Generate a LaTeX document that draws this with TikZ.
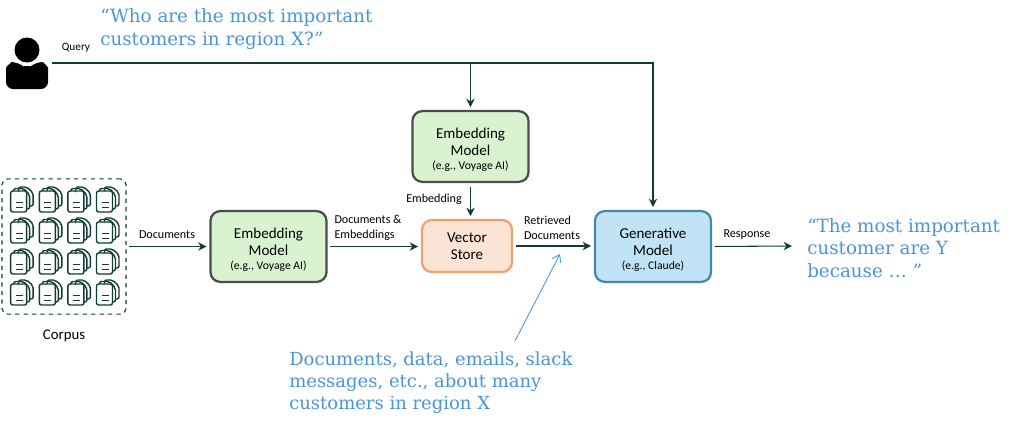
\documentclass[tikz,border=0pt]{standalone}
\usepackage{fontspec}
\setmainfont{Carlito}
\newfontfamily\quotefont{DejaVu Serif}
\usetikzlibrary{arrows.meta,positioning}
\definecolor{linegreen}{HTML}{103C34}
\definecolor{quoteblue}{HTML}{4A94DC}
\newcommand{\maker}[1]{\\[-2pt]{\fontsize{8.3}{9}\selectfont #1}}
\tikzset{
  px/.style={x=0.025cm,y=-0.025cm},
  modelbox/.style={draw,line width=1.6pt,rounded corners=7pt,minimum width=2.9cm,minimum height=1.77cm,align=center,inner sep=0pt,font=\fontsize{10.7}{11.8}\selectfont},
  embedbox/.style={modelbox,draw=black!70,fill={rgb,255:red,217;green,242;blue,208}},
  storebox/.style={modelbox,draw={rgb,255:red,241;green,160;blue,110},fill={rgb,255:red,251;green,227;blue,214},minimum width=2.25cm,minimum height=1.3cm},
  genbox/.style={modelbox,draw={rgb,255:red,70;green,135;blue,170},fill={rgb,255:red,192;green,228;blue,245}},
  conn/.style={draw=linegreen,line width=0.75pt,-{Stealth[length=6pt,width=6pt]}},
  edgelabel/.style={font=\fontsize{8.6}{10.6}\selectfont,align=left,inner sep=0pt},
  quote/.style={font=\quotefont\fontsize{13}{15.8}\selectfont,text=quoteblue,align=left,inner sep=0pt,anchor=west},
  docicon/.pic={
    \draw[linegreen,line width=1pt,rounded corners=1.5pt] (0,-9) rectangle (16,12);
    \draw[linegreen,line width=1pt,rounded corners=1.5pt] (3,-9) -- (3,-11.5) -- (13,-11.5) -- (19,-5) -- (19,9) -- (16,9);
    \draw[linegreen,line width=1pt,rounded corners=1.5pt] (8,-11.5) -- (8,-13) -- (16,-13) -- (22.5,-7) -- (22.5,6) -- (19,6);
    \draw[linegreen,line width=1pt] (5,2.7) -- (12,2.7) (5,7.7) -- (12,7.7);
  }
}
\begin{document}
\begin{tikzpicture}[px]
  \useasboundingbox (0,0) rectangle (1024,428);
  % person
  \fill (27,50) circle (12.5);
  \fill[rounded corners=5pt] (6,89) -- (6,75) .. controls (6,66) and (13,62) .. (18,62) .. controls (23,66) and (31,66) .. (36,62) .. controls (42,62) and (48,66) .. (48,75) -- (48,89) -- cycle;
  \coordinate (user) at (52,63);
  \node[edgelabel,font=\fontsize{8}{10}\selectfont] (query) at (76,48) {Query};
  \node[quote] (question) at (100,29) {“Who are the most important\\customers in region X?”};
  % corpus
  \node[draw=linegreen,dashed,line width=0.8pt,rounded corners=4pt,minimum width=3.1cm,minimum height=3.38cm,inner sep=0pt] (corpus) at (64,246.5) {};
  \foreach \x in {0,1,2,3}
    \foreach \y in {0,1,2,3}
      \pic[px] at ({10.7+28.6*\x},{200+31*\y}) {docicon};
  \node[font=\fontsize{10.5}{12}\selectfont,below=0.25cm of corpus] (corpuslabel) {Corpus};
  % models
  \node[embedbox] (embedtop) at (470.5,146.5) {\rule{0pt}{12pt}Embedding\\Model\maker{(e.g., Voyage AI)}};
  \node[embedbox] (embeddoc) at (268.5,246.5) {\rule{0pt}{12pt}Embedding\\Model\maker{(e.g., Voyage AI)}};
  \node[storebox] (store) at (467,246) {Vector\\Store};
  \node[genbox] (gen) at (653,246.5) {\rule{0pt}{12pt}Generative\\Model\maker{(e.g., Claude)}};
  \coordinate (out) at (792,246);
  % connectors
  \draw[conn] (user) -| ([yshift=2pt]gen.north);
  \draw[conn] (embedtop.north |- user) -- ([yshift=2pt]embedtop.north);
  \draw[conn,shorten <=3pt,shorten >=2pt] (embedtop.south) -- (embedtop.south |- store.north);
  \draw[conn,shorten <=2pt,shorten >=2pt] (corpus.east) -- (embeddoc.west);
  \draw[conn,shorten <=2pt,shorten >=2pt] (embeddoc.east) -- (embeddoc.east -| store.west);
  \draw[conn,shorten <=2pt,shorten >=2pt] (store.east) -- (store.east -| gen.west);
  \draw[conn,shorten <=2pt] (gen.east) -- (out);
  % labels
  \node[edgelabel] at (167,235) {Documents};
  \node[edgelabel] at (368,228) {Documents \&\\Embeddings};
  \node[edgelabel] at (434,199) {Embedding};
  \node[edgelabel] at (552,228) {Retrieved\\Documents};
  \node[edgelabel] at (747,235) {Response};
  % answer and note
  \node[quote] (answer) at (807,248) {“The most important\\customer are Y\\because … ”};
  \node[quote,font=\quotefont\fontsize{12.8}{15.8}\selectfont] (note) at (289,382.5) {Documents, data, emails, slack\\messages, etc., about many\\customers in region X};
  \coordinate (notetip) at (560,254);
  \draw[draw=quoteblue,line width=0.6pt,-{Straight Barb[length=5pt,width=7pt]}] (515,341) -- (notetip);
\end{tikzpicture}
\end{document}
